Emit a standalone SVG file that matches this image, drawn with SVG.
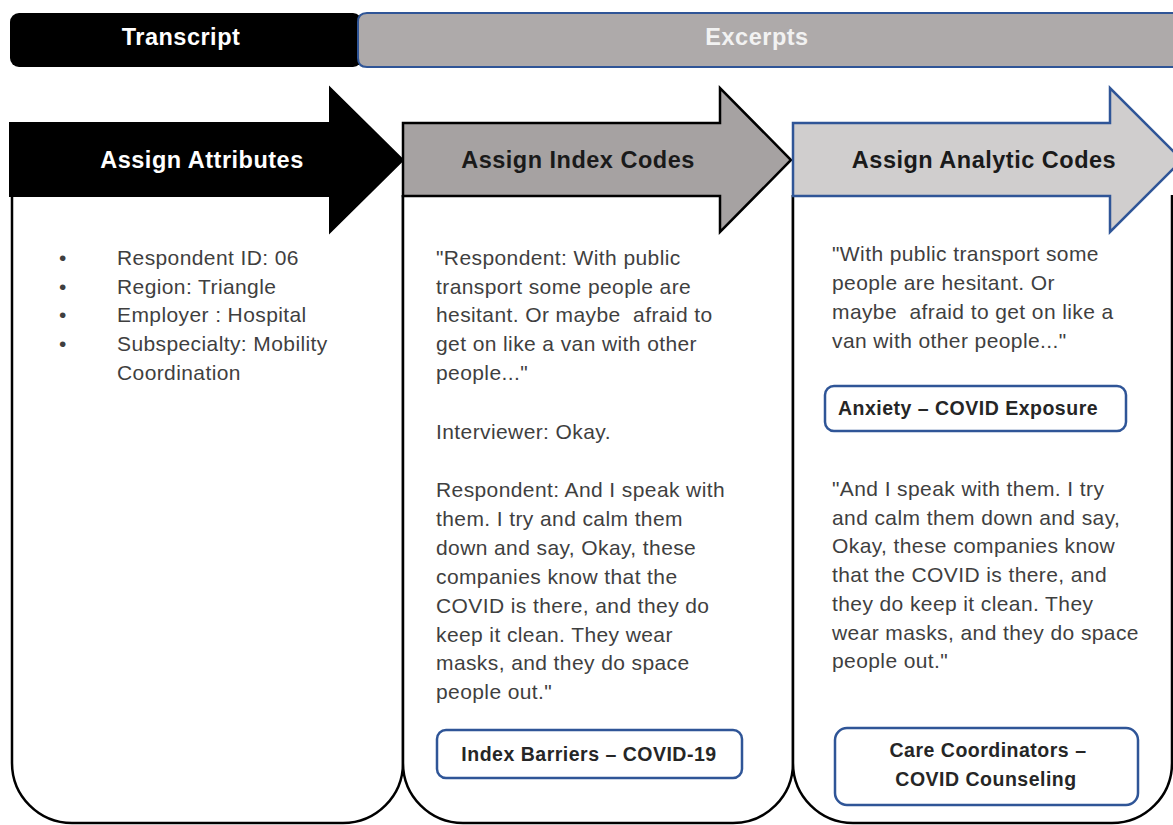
<svg xmlns="http://www.w3.org/2000/svg" width="1173" height="825" viewBox="0 0 1173 825">
  <style>
    .panel { fill: #ffffff; stroke: #000000; stroke-width: 2.5; }
    .body { font-family: "Liberation Sans", Arial, sans-serif; font-size: 21px; letter-spacing: 0.4px; fill: #3f3f3f; }
    .head { font-family: "Liberation Sans", Arial, sans-serif; font-size: 23.5px; letter-spacing: 0.5px; font-weight: bold; text-anchor: middle; }
    .code { fill: #ffffff; stroke: #2f5597; stroke-width: 2.5; }
    .codetext { font-family: "Liberation Sans", Arial, sans-serif; font-size: 19.5px; letter-spacing: 0.5px; font-weight: bold; fill: #262626; text-anchor: middle; }
  </style>
  <rect width="1173" height="825" fill="#ffffff"/>

  <!-- Top band -->
  <g id="transcript">
    <rect x="10" y="13" width="352" height="54" rx="9" fill="#000000"/>
    <text class="head" x="181" y="45" fill="#ffffff">Transcript</text>
  </g>
  <g id="excerpts">
    <path d="M367,13 H1175 V67 H367 Q358,67 358,58 V22 Q358,13 367,13 Z" fill="#aeaaaa" stroke="#2f5597" stroke-width="2"/>
    <text class="head" x="757" y="45" fill="#f2f2f2">Excerpts</text>
  </g>

  <!-- Column panels with rounded bottoms -->
  <g id="column-attributes">
    <path class="panel" d="M12,195 V763 A60,60 0 0 0 72,823 H343 A60,60 0 0 0 403,763 V195"/>
    <text class="body" x="59" y="265">•</text>
    <text class="body" x="59" y="294">•</text>
    <text class="body" x="59" y="322">•</text>
    <text class="body" x="59" y="351">•</text>
    <text class="body" x="117" y="265">Respondent ID: 06</text>
    <text class="body" x="117" y="294">Region: Triangle</text>
    <text class="body" x="117" y="322">Employer : Hospital</text>
    <text class="body" x="117" y="351">Subspecialty: Mobility</text>
    <text class="body" x="117" y="380">Coordination</text>
  </g>
  <g id="column-index">
    <path class="panel" d="M403,195 V763 A60,60 0 0 0 463,823 H733 A60,60 0 0 0 793,763 V195"/>
    <text class="body" x="436" y="265" xml:space="preserve">"Respondent: With public</text>
    <text class="body" x="436" y="294" xml:space="preserve">transport some people are</text>
    <text class="body" x="436" y="322" xml:space="preserve">hesitant. Or maybe  afraid to</text>
    <text class="body" x="436" y="351" xml:space="preserve">get on like a van with other</text>
    <text class="body" x="436" y="380" xml:space="preserve">people..."</text>
    <text class="body" x="436" y="439">Interviewer: Okay.</text>
    <text class="body" x="436" y="497">Respondent: And I speak with</text>
    <text class="body" x="436" y="526">them. I try and calm them</text>
    <text class="body" x="436" y="555">down and say, Okay, these</text>
    <text class="body" x="436" y="584">companies know that the</text>
    <text class="body" x="436" y="613">COVID is there, and they do</text>
    <text class="body" x="436" y="642">keep it clean. They wear</text>
    <text class="body" x="436" y="670">masks, and they do space</text>
    <text class="body" x="436" y="699">people out."</text>
  </g>
  <g id="column-analytic">
    <path class="panel" d="M793,195 V763 A60,60 0 0 0 853,823 H1112 A60,60 0 0 0 1172,763 V195"/>
    <text class="body" x="832" y="261">"With public transport some</text>
    <text class="body" x="832" y="290">people are hesitant. Or</text>
    <text class="body" x="832" y="319" xml:space="preserve">maybe  afraid to get on like a</text>
    <text class="body" x="832" y="348">van with other people..."</text>
    <text class="body" x="832" y="496">"And I speak with them. I try</text>
    <text class="body" x="832" y="525">and calm them down and say,</text>
    <text class="body" x="832" y="553">Okay, these companies know</text>
    <text class="body" x="832" y="582">that the COVID is there, and</text>
    <text class="body" x="832" y="611">they do keep it clean. They</text>
    <text class="body" x="832" y="640">wear masks, and they do space</text>
    <text class="body" x="832" y="668">people out."</text>
  </g>

  <!-- Code labels -->
  <g id="code-index-barriers">
    <rect class="code" x="437" y="730" width="305" height="48" rx="9"/>
    <text class="codetext" x="589" y="761">Index Barriers – COVID-19</text>
  </g>
  <g id="code-anxiety">
    <rect class="code" x="825" y="386" width="301" height="45" rx="9"/>
    <text class="codetext" x="968" y="415">Anxiety – COVID Exposure</text>
  </g>
  <g id="code-care">
    <rect class="code" x="835" y="728" width="303" height="77" rx="12"/>
    <text class="codetext" x="988" y="757">Care Coordinators  –</text>
    <text class="codetext" x="986" y="786">COVID Counseling</text>
  </g>

  <!-- Step arrows -->
  <g id="connectors">
    <path d="M10,123 H330 V88 L403,160 L330,232 V196 H10 Z" fill="#000000" stroke="#000000" stroke-width="2"/>
    <path d="M403,123 H720 V88 L791,160 L720,232 V196 H403 Z" fill="#a6a2a2" stroke="#000000" stroke-width="2.5"/>
    <path d="M793,123 H1110 V88 L1182,160 L1110,232 V196 H793 Z" fill="#d0cece" stroke="#2f5597" stroke-width="2.5"/>
  </g>
  <g id="step-attributes">
    <text class="head" x="202" y="168" fill="#ffffff">Assign Attributes</text>
  </g>
  <g id="step-index">
    <text class="head" x="578" y="168" fill="#1a1a1a">Assign Index Codes</text>
  </g>
  <g id="step-analytic">
    <text class="head" x="984" y="168" fill="#1a1a1a">Assign Analytic Codes</text>
  </g>
</svg>
